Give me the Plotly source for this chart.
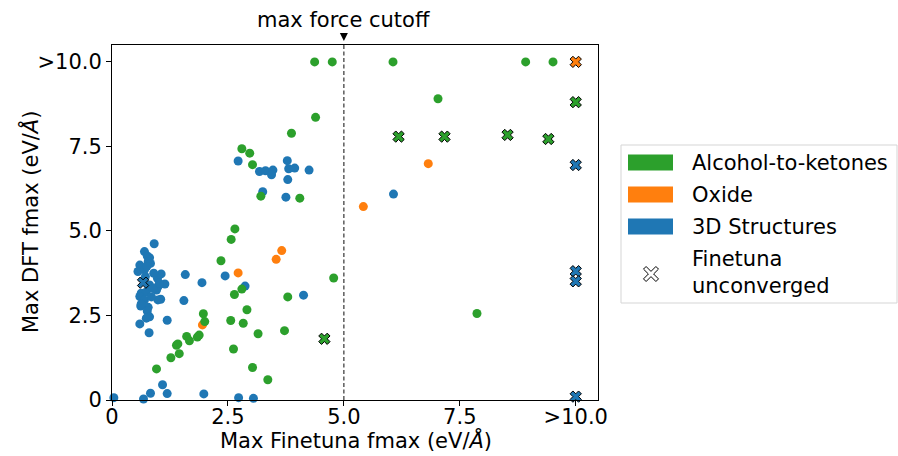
import plotly.graph_objects as go

# ---------------- data ----------------
GREEN, ORANGE, BLUE = "#2ca02c", "#ff7f0e", "#1f77b4"

# converged points (x = Finetuna fmax, y = DFT fmax; 10 means ">10")
alc_x = [4.37, 4.75, 4.39, 3.87, 2.80, 2.97, 3.03, 3.21, 4.05, 2.65, 2.57, 2.35,
         0.96, 1.27, 1.45, 1.39, 1.42, 1.61, 1.67, 1.84, 1.88, 1.97, 2.00, 2.80,
         2.64, 2.91, 2.56, 2.83, 3.15, 2.62, 3.03, 3.36, 3.79, 3.72, 4.78, 6.06,
         8.92, 9.51, 7.03, 7.87]
alc_y = [10.0, 10.0, 8.36, 7.89, 7.43, 7.30, 6.96, 6.03, 5.97, 5.06, 4.75, 4.12,
         0.92, 1.25, 1.37, 1.62, 1.66, 1.88, 1.75, 1.86, 1.92, 2.55, 2.32, 3.28,
         3.12, 2.67, 2.35, 2.27, 1.96, 1.51, 0.96, 0.60, 3.05, 2.05, 3.61, 10.0,
         10.0, 10.0, 8.91, 2.56]

oxi_x = [3.66, 3.54, 1.95, 2.72, 6.82, 5.42]
oxi_y = [4.42, 4.16, 2.22, 3.76, 6.99, 5.72]

s3d_x = [0.91, 0.70, 0.76, 0.81, 0.78, 0.83, 0.60, 0.56, 0.70, 0.75, 1.06, 0.98,
         1.58, 1.14, 0.99, 0.96, 0.81, 0.63, 0.74, 0.88, 1.94, 0.60, 1.05, 0.99,
         0.70, 1.55, 0.62, 0.78, 0.63, 0.76, 0.81, 0.74, 0.60, 1.19, 0.80, 0.72,
         0.85, 1.02, 0.90,
         0.04, 0.68, 0.83, 1.09, 1.19, 1.98, 2.73, 3.05, 2.44, 2.87, 4.13, 2.72,
         3.78, 3.18, 3.31, 3.47, 3.44, 3.81, 3.94, 4.25, 3.79, 3.25, 3.75, 6.07]
s3d_y = [4.62, 4.39, 4.26, 4.21, 4.09, 4.04, 3.99, 3.80, 3.85, 3.95, 3.73, 3.60,
         3.71, 3.43, 3.35, 3.25, 3.40, 3.16, 3.20, 3.30, 3.47, 3.06, 2.98, 2.96,
         2.96, 2.94, 2.78, 2.74, 2.84, 2.63, 2.46, 2.42, 2.25, 2.36, 1.99, 3.65,
         3.05, 3.45, 3.75,
         0.07, 0.03, 0.20, 0.45, 0.19, 0.18, 0.07, 0.05, 3.67, 3.37, 3.10, 7.07,
         7.08, 6.76, 6.78, 6.80, 6.66, 6.84, 6.86, 6.80, 6.52, 6.16, 6.00, 6.09]

# Finetuna unconverged points
alc_unc_x = [4.58, 10.0, 6.18, 7.17, 8.53, 9.41]
alc_unc_y = [1.81, 8.81, 7.79, 7.79, 7.84, 7.72]
oxi_unc_x = [10.0]
oxi_unc_y = [10.0]
s3d_unc_x = [0.67, 10.0, 10.0, 10.0, 10.0]
s3d_unc_y = [3.47, 6.95, 3.81, 3.51, 0.10]

tick_vals = [0, 2.5, 5.0, 7.5, 10.0]
tick_text = ["0", "2.5", "5.0", "7.5", ">10.0"]
cutoff = 5.0

categories = ["Alcohol-to-ketones", "Oxide", "3D Structures"]
cat_colors = [GREEN, ORANGE, BLUE]

# ---------------- figure ----------------
W, H = 898, 456
L, R, T, B = 112, 300, 45, 56
FONT = "DejaVu Sans"
FS = 21

fig = go.Figure()

def dots(x, y, c):
    fig.add_trace(go.Scatter(x=x, y=y, mode="markers", showlegend=False,
                             marker=dict(color=c, size=9, line=dict(width=0)),
                             cliponaxis=False, hoverinfo="skip"))

def crosses(x, y, c):
    fig.add_trace(go.Scatter(x=x, y=y, mode="markers", showlegend=False,
                             marker=dict(color=c, size=10, symbol="x",
                                         line=dict(color="black", width=1)),
                             cliponaxis=False, hoverinfo="skip"))

dots(s3d_x, s3d_y, BLUE)
dots(oxi_x, oxi_y, ORANGE)
dots(alc_x, alc_y, GREEN)
crosses(s3d_unc_x, s3d_unc_y, BLUE)
crosses(alc_unc_x, alc_unc_y, GREEN)
crosses(oxi_unc_x, oxi_unc_y, ORANGE)

fig.add_shape(type="line", x0=cutoff, x1=cutoff, y0=0, y1=1, xref="x", yref="paper",
              line=dict(color="#333333", width=1.2, dash="4px,2.5px"))

PW, PH = W - L - R, H - T - B
def px(xp):
    return (xp - L) / PW
def py(yp):
    return (H - B - yp) / PH

# small downward triangle marking the cutoff above the axes
cut_px = L + cutoff / 10.48 * PW
tri = f"M {px(cut_px - 4):.5f},{py(33):.5f} L {px(cut_px + 4):.5f},{py(33):.5f} L {px(cut_px):.5f},{py(41):.5f} Z"
fig.add_shape(type="path", path=tri, xref="paper", yref="paper",
              fillcolor="black", line=dict(color="black", width=0))

fig.add_annotation(x=cutoff, y=py(20), xref="x", yref="paper",
                   text="max force cutoff", showarrow=False,
                   font=dict(family=FONT, size=FS, color="black"),
                   xanchor="center", yanchor="middle")

# axis titles
fig.add_annotation(x=px(356), y=py(440), xref="paper", yref="paper",
                   text="Max Finetuna fmax (eV/<i>Å</i>)", showarrow=False,
                   xanchor="center", yanchor="middle",
                   font=dict(family=FONT, size=FS, color="black"))
fig.add_annotation(x=px(30), y=py(222), xref="paper", yref="paper",
                   text="Max DFT fmax (eV/<i>Å</i>)", showarrow=False, textangle=-90,
                   xanchor="center", yanchor="middle",
                   font=dict(family=FONT, size=FS, color="black"))

# ---------------- manual legend ----------------
fig.add_shape(type="rect", xref="paper", yref="paper",
              x0=px(621), x1=px(897), y0=py(145), y1=py(303),
              line=dict(color="#d5d5d5", width=1), fillcolor="white", layer="below")

rows_y = [162.5, 194.5, 226.5]
for name, col, yc in zip(categories, cat_colors, rows_y):
    fig.add_shape(type="rect", xref="paper", yref="paper",
                  x0=px(628), x1=px(673), y0=py(yc - 8), y1=py(yc + 8),
                  line=dict(width=0), fillcolor=col)
    fig.add_annotation(x=px(690), y=py(yc), xref="paper", yref="paper",
                       text=name, showarrow=False, xanchor="left", yanchor="middle",
                       font=dict(family=FONT, size=FS, color="black"))

fig.add_annotation(x=px(690), y=py(272), xref="paper", yref="paper",
                   text="Finetuna<br>unconverged", showarrow=False,
                   xanchor="left", yanchor="middle", align="left",
                   font=dict(family=FONT, size=FS, color="black"))

# white X with black outline in the legend
cx, cy, a, w = 651, 274, 7.5, 2.6
pts = [(-a + w, -a), (0, -w), (a - w, -a), (a, -a + w), (w, 0), (a, a - w),
       (a - w, a), (0, w), (-a + w, a), (-a, a - w), (-w, 0), (-a, -a + w)]
path = "M " + " L ".join(f"{px(cx + dx):.5f},{py(cy + dy):.5f}" for dx, dy in pts) + " Z"
fig.add_shape(type="path", path=path, xref="paper", yref="paper",
              fillcolor="white", line=dict(color="black", width=1))

axis_common = dict(showline=True, linecolor="black", linewidth=1, mirror=True,
                   ticks="outside", ticklen=5, tickwidth=1, tickcolor="black",
                   showgrid=False, zeroline=False, automargin=False,
                   tickfont=dict(family=FONT, size=FS, color="black"))

fig.update_layout(
    width=W, height=H,
    margin=dict(l=L, r=R, t=T, b=B),
    paper_bgcolor="white", plot_bgcolor="white",
    xaxis=dict(range=[0, 10.48], tickvals=tick_vals, ticktext=tick_text,
               ticklabelstandoff=-7, **axis_common),
    yaxis=dict(range=[0, 10.5], tickvals=tick_vals, ticktext=tick_text,
               **axis_common),
    showlegend=False,
)

fig.write_html("out.html", config={"displayModeBar": False},
               post_script="document.body.style.margin='0px';document.body.style.overflow='hidden';")
